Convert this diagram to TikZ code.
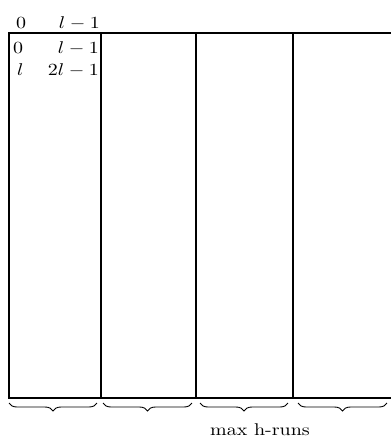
\documentclass[tikz,border=0pt]{standalone}
\usepackage{amsmath}
\usepackage{graphicx}
\usetikzlibrary{
  positioning,
  calc,
  decorations.pathreplacing
}
\newcommand{\wideidx}[1]{\scalebox{2.0}[1.7]{#1}}

\begin{document}
\begin{tikzpicture}[x=1pt, y=-1pt,
  idx/.style={inner sep=0pt},
  frame/.style={line width=1.2pt},
  runbrace/.style={decorate, line width=0.9pt,
    decoration={brace, mirror, amplitude=8pt}}]
\useasboundingbox (0,0) rectangle (391,440);

% frame, open on the right
\coordinate (tl) at (9,33);
\coordinate (tr) at (391,33);
\coordinate (bl) at (9,398);
\coordinate (br) at (391,398);
\draw[frame] (tr) -- (tl) -- (bl) -- (br);

% column separators
\foreach \cx/\nm in {101/a, 196/b, 293/c} {
  \coordinate (top\nm) at (\cx,33);
  \coordinate (bot\nm) at (\cx,398);
  \draw[frame] (top\nm) -- (bot\nm);
}

% indices above and inside the first column
\node[idx, anchor=base west] (hdfirst) at (16,28) {\wideidx{$0$}};
\node[idx, anchor=base east] (hdlast) at (100,28) {\wideidx{$l-1$}};
\node[idx, anchor=base west] (rowAfirst) at (13,53) {\wideidx{$0$}};
\node[idx, anchor=base east] (rowAlast) at (99,53) {\wideidx{$l-1$}};
\node[idx, anchor=base west] (rowBfirst) at (17,75) {\wideidx{$l$}};
\node[idx, anchor=base east] (rowBlast) at (99,75) {\wideidx{$2l-1$}};

% one brace under every column
\coordinate (brA1) at (9,403);   \coordinate (brA2) at (97,403);
\coordinate (brB1) at (103,403); \coordinate (brB2) at (192,403);
\coordinate (brC1) at (200,403); \coordinate (brC2) at (288,403);
\coordinate (brD1) at (298,403); \coordinate (brD2) at (387,403);
\draw[runbrace] (brA1) -- (brA2);
\draw[runbrace] (brB1) -- (brB2);
\draw[runbrace] (brC1) -- (brC2);
\draw[runbrace] (brD1) -- (brD2);

\node[idx, anchor=base] (runs) at (260,435) {\wideidx{max h-runs}};
\end{tikzpicture}
\end{document}
